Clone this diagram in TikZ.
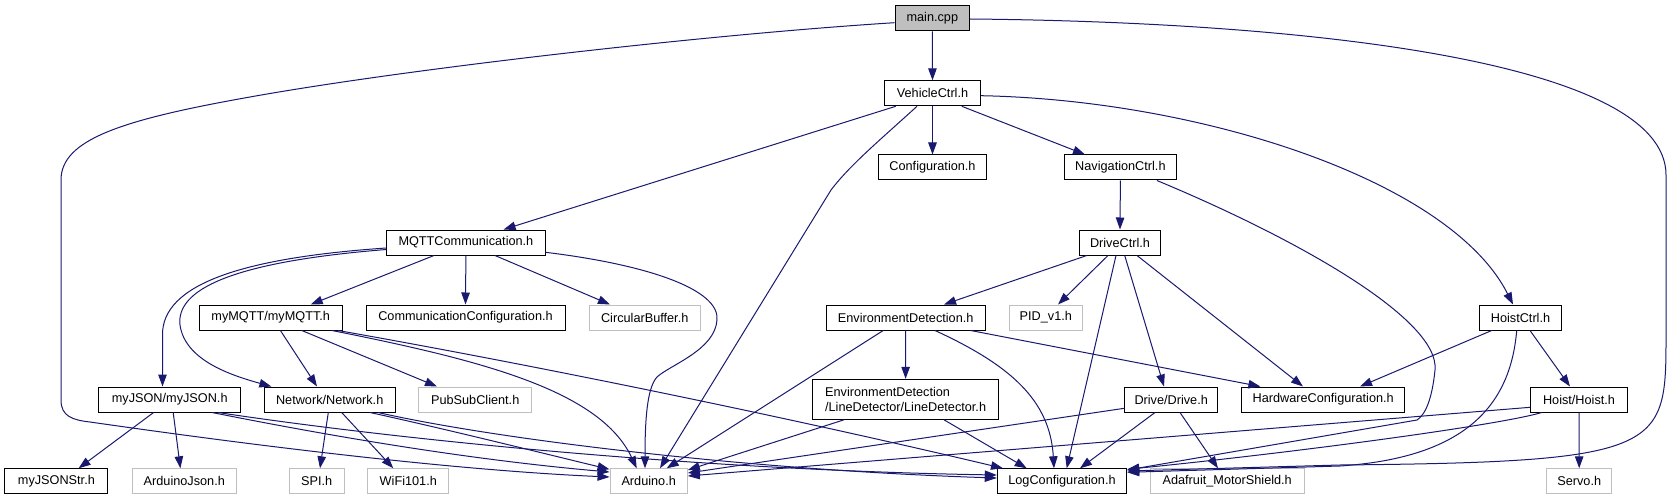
\documentclass[tikz,border=0pt]{standalone}
\usepackage{fontspec}
\setmainfont{Liberation Sans}
\usetikzlibrary{arrows.meta}
\definecolor{edgeblue}{HTML}{191970}
\definecolor{extgray}{HTML}{BFBFBF}
\newcommand\dgfont{\fontsize{12.7pt}{15pt}\selectfont}
\begin{document}
\begin{tikzpicture}[x=1pt,y=-1pt,
  box/.style={draw=black, line width=1pt, fill=white, minimum height=25pt, inner sep=0pt, font=\dgfont, text=black},
  ext/.style={box, draw=extgray},
  edge/.style={draw=edgeblue, line width=1pt, -{Triangle[length=12pt,width=8.5pt]}}]
\fill[white] (0,0) rectangle (1674,500);
% row 0
\node[box, fill=extgray, minimum width=74.6pt] (main) at (932.3,18.5) {main.cpp};
% row 1
\node[box, minimum width=96.4pt] (vehicle) at (932.5,93.3) {VehicleCtrl.h};
% row 2
\node[box, minimum width=107.8pt] (config) at (932.5,167.5) {Configuration.h};
\node[box, minimum width=112.2pt] (nav) at (1120.4,167.5) {NavigationCtrl.h};
% row 3
\node[box, minimum width=158.3pt] (mqtt) at (465.9,242.5) {MQTTCommunication.h};
\node[box, minimum width=80.8pt] (drivectrl) at (1120,242.5) {DriveCtrl.h};
% row 4
\node[box, minimum width=142.8pt] (mymqtt) at (270.7,317.5) {myMQTT/myMQTT.h};
\node[box, minimum width=199pt] (commconf) at (465.5,317.5) {CommunicationConfiguration.h};
\node[ext, minimum width=110.7pt] (circbuf) at (644.7,317.5) {CircularBuffer.h};
\node[box, minimum width=158.6pt] (envdet) at (905.7,317.5) {EnvironmentDetection.h};
\node[ext, minimum width=73.5pt] (pid) at (1045.8,317.5) {PID\_v1.h};
\node[box, minimum width=82.4pt] (hoistctrl) at (1520.5,317.5) {HoistCtrl.h};
% row 5
\node[box, minimum width=141.5pt] (myjson) at (169.7,399.5) {myJSON/myJSON.h};
\node[box, minimum width=130.7pt] (network) at (329.7,399.5) {Network/Network.h};
\node[ext, minimum width=112.5pt] (pubsub) at (475.2,399.5) {PubSubClient.h};
\node[box, minimum width=186.1pt, minimum height=40pt, align=left] (linedet) at (905.6,399.3) {EnvironmentDetection\\/LineDetector/LineDetector.h};
\node[box, minimum width=92.9pt] (drive) at (1171.2,399.5) {Drive/Drive.h};
\node[box, minimum width=162.5pt] (hwconf) at (1323.2,399.5) {HardwareConfiguration.h};
\node[box, minimum width=96.6pt] (hoist) at (1579,399.5) {Hoist/Hoist.h};
% row 6
\node[box, minimum width=102.9pt] (myjsonstr) at (56.4,481.3) {myJSONStr.h};
\node[ext, minimum width=104.3pt] (arduinojson) at (184.3,481.3) {ArduinoJson.h};
\node[ext, minimum width=54.7pt] (spi) at (316.7,481.3) {SPI.h};
\node[ext, minimum width=81.3pt] (wifi) at (408.3,481.3) {WiFi101.h};
\node[ext, minimum width=77.3pt] (arduino) at (648.7,481.3) {Arduino.h};
\node[box, minimum width=129.4pt] (logconf) at (1062,481.3) {LogConfiguration.h};
\node[ext, minimum width=153.6pt] (adafruit) at (1227.2,481.3) {Adafruit\_MotorShield.h};
\node[ext, minimum width=65pt] (servo) at (1579.2,481.3) {Servo.h};

% main.cpp
\draw[edge] (main.south) -- (vehicle.north);
\draw[edge] ([yshift=-4.2pt]main.west) .. controls (700,35) and (400,70) .. (250,97) .. controls (120,120) and (61,140) .. (61,180) -- (61,400) .. controls (61,416) and (72,420) .. (90,422) .. controls (250,445) and (450,470) .. ([yshift=4.3pt]arduino.west);
\draw[edge] ([yshift=-0.5pt]main.east) .. controls (1300,22) and (1666,60) .. (1666,175) -- (1666,340) .. controls (1666,450) and (1660,462) .. (1340,465) -- ([yshift=10.3pt]logconf.east);
% VehicleCtrl
\draw[edge] ([xshift=-36.8pt]vehicle.south) -- ([xshift=37.7pt]mqtt.north);
\draw[edge] ([xshift=-15.5pt]vehicle.south) .. controls (880,140) and (850,165) .. (831,190) -- ([xshift=11.3pt]arduino.north);
\draw[edge] (vehicle.south) -- (config.north);
\draw[edge] ([xshift=29.3pt]vehicle.south) -- ([xshift=-35.4pt]nav.north);
\draw[edge] ([yshift=-2.4pt]vehicle.east) .. controls (1200,100) and (1450,180) .. ([xshift=-7.5pt]hoistctrl.north);
% NavigationCtrl
\draw[edge] (nav.south) -- (drivectrl.north);
\draw[edge] ([xshift=36.5pt]nav.south) .. controls (1300,240) and (1440,320) .. (1435,370) .. controls (1432,400) and (1425,415) .. (1417,420) -- ([yshift=11.3pt]logconf.east);
% MQTTCommunication
\draw[edge] ([yshift=-5.5pt]mqtt.west) .. controls (240,258) and (162,285) .. (162.5,335) -- ([xshift=-7.2pt]myjson.north);
\draw[edge] ([yshift=-7pt]mqtt.west) .. controls (230,262) and (176,290) .. (180,325) .. controls (185,360) and (230,375) .. ([xshift=-58.3pt]network.north);
\draw[edge] ([xshift=-31.9pt]mqtt.south) -- ([xshift=40pt]mymqtt.north);
\draw[edge] (mqtt.south) -- (commconf.north);
\draw[edge] ([xshift=29.1pt]mqtt.south) -- ([xshift=-34.7pt]circbuf.north);
\draw[edge] ([yshift=-9.8pt]mqtt.east) .. controls (650,265) and (720,290) .. (717,320) .. controls (715,350) and (670,365) .. (657,377) .. controls (647,388) and (645,420) .. ([xshift=-3.7pt]arduino.north);
% myMQTT
\draw[edge] ([xshift=9.7pt]mymqtt.south) -- ([xshift=-12.7pt]network.north);
\draw[edge] ([xshift=31.1pt]mymqtt.south) -- ([xshift=-38.2pt]pubsub.north);
\draw[edge] ([xshift=61.3pt]mymqtt.south) .. controls (480,360) and (600,390) .. ([xshift=-12pt]arduino.north);
\draw[edge] ([xshift=67.3pt]mymqtt.south) .. controls (550,368) and (800,420) .. ([xshift=-59pt]logconf.north);
% myJSON
\draw[edge] ([xshift=-16.1pt]myjson.south) -- ([xshift=22.2pt]myjsonstr.north);
\draw[edge] ([xshift=3.5pt]myjson.south) -- ([xshift=-3.9pt]arduinojson.north);
\draw[edge] ([xshift=42.3pt]myjson.south) .. controls (300,430) and (450,458) .. ([yshift=9.3pt]arduino.west);
\draw[edge] ([xshift=48.3pt]myjson.south) .. controls (400,440) and (700,470) .. ([yshift=6.3pt]logconf.west);
% Network
\draw[edge] ([xshift=-1.4pt]network.south) -- ([xshift=3.3pt]spi.north);
\draw[edge] ([xshift=12pt]network.south) -- ([xshift=-15pt]wifi.north);
\draw[edge] ([xshift=40.3pt]network.south) .. controls (450,430) and (550,455) .. ([yshift=12pt]arduino.west);
\draw[edge] ([xshift=48.3pt]network.south) .. controls (500,440) and (750,470) .. ([yshift=3.3pt]logconf.west);
% DriveCtrl
\draw[edge] ([xshift=-33.2pt]drivectrl.south) -- ([xshift=38.3pt]envdet.north);
\draw[edge] ([xshift=-12pt]drivectrl.south) -- ([xshift=12.2pt]pid.north);
\draw[edge] ([xshift=-4pt]drivectrl.south) -- ([xshift=4.7pt]logconf.north);
\draw[edge] ([xshift=4.7pt]drivectrl.south) -- ([xshift=-7.2pt]drive.north);
\draw[edge] ([xshift=17pt]drivectrl.south) -- ([xshift=-20.2pt]hwconf.north);
% EnvironmentDetection
\draw[edge] (envdet.south) -- (linedet.north);
\draw[edge] ([xshift=-22.5pt]envdet.south) -- ([xshift=18pt]arduino.north);
\draw[edge] ([xshift=29.3pt]envdet.south) .. controls (1010,365) and (1050,400) .. ([xshift=-8pt]logconf.north);
\draw[edge] ([xshift=65pt]envdet.south) -- ([xshift=-62.8pt]hwconf.north);
% LineDetector
\draw[edge] ([xshift=-61.6pt]linedet.south) -- ([yshift=11.3pt]arduino.east);
\draw[edge] ([xshift=38.4pt]linedet.south) -- ([xshift=-35.3pt]logconf.north);
% Drive
\draw[edge] ([yshift=-8.8pt]drive.west) -- ([yshift=8.3pt]arduino.east);
\draw[edge] ([xshift=-16.2pt]drive.south) -- ([xshift=18pt]logconf.north);
\draw[edge] ([xshift=8.8pt]drive.south) -- ([xshift=-9.2pt]adafruit.north);
% HoistCtrl
\draw[edge] ([xshift=-28.8pt]hoistctrl.south) -- ([xshift=36.8pt]hwconf.north);
\draw[edge] ([xshift=-3.8pt]hoistctrl.south) .. controls (1510,410) and (1460,458) .. (1340,466) -- ([yshift=9pt]logconf.east);
\draw[edge] ([xshift=9.5pt]hoistctrl.south) -- ([xshift=-9pt]hoist.north);
% Hoist
\draw[edge] ([yshift=-7.8pt]hoist.west) -- ([yshift=5.3pt]arduino.east);
\draw[edge] ([xshift=-37.3pt]hoist.south) .. controls (1500,425) and (1300,452) .. ([yshift=12pt]logconf.east);
\draw[edge] (hoist.south) -- (servo.north);
\end{tikzpicture}
\end{document}
